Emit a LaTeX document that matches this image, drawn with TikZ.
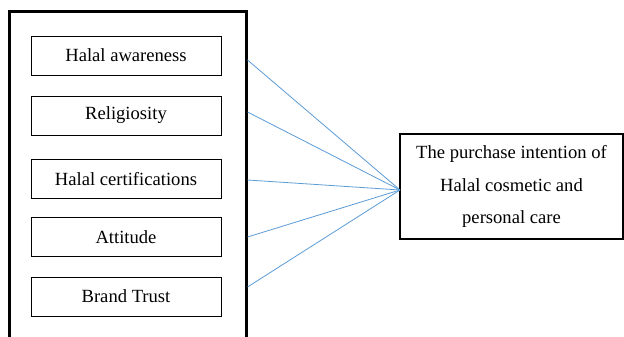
\documentclass[tikz,border=0pt]{standalone}
\usepackage{fontspec}
\setmainfont{Liberation Serif}
\definecolor{lblue}{RGB}{91,155,213}

\begin{document}
\begin{tikzpicture}[x=1pt, y=-1pt,
    factor/.style={draw, line width=0.9pt, minimum width=190pt, minimum height=39pt,
        inner sep=0pt, font=\fontsize{18.6pt}{22pt}\selectfont},
    link/.style={draw=lblue, line width=0.8pt}]
    \useasboundingbox (0, 0) rectangle (624, 337);

    % outer frame, open at the bottom of the page
    \node[draw, line width=3pt, minimum width=237pt, minimum height=348pt, inner sep=0pt]
        (grp) at (127.5, 186) {};

    \node[factor] (aware) at (126, 55.5) {Halal awareness};
    \node[factor] (relig) at (126, 115.5) {Religiosity};
    \node[factor] (cert)  at (126, 179) {Halal certifications};
    \node[factor] (att)   at (126, 237) {Attitude};
    \node[factor] (trust) at (126, 296.5) {Brand Trust};

    \node[draw, line width=2.2pt, minimum width=223pt, minimum height=105pt, align=center,
        font=\fontsize{18.6pt}{32.5pt}\selectfont] (intent) at (511.5, 186.5)
        {The purchase intention of\\Halal cosmetic and\\personal care};
    \coordinate (hub) at (400, 190);

    \coordinate (s1) at (247.5, 60);
    \coordinate (s2) at (247.5, 112);
    \coordinate (s3) at (247.5, 180);
    \coordinate (s4) at (247.5, 237);
    \coordinate (s5) at (247.5, 287);

    \foreach \s in {s1,s2,s3,s4,s5}
        \path[link] (\s) -- (hub);
\end{tikzpicture}
\end{document}
